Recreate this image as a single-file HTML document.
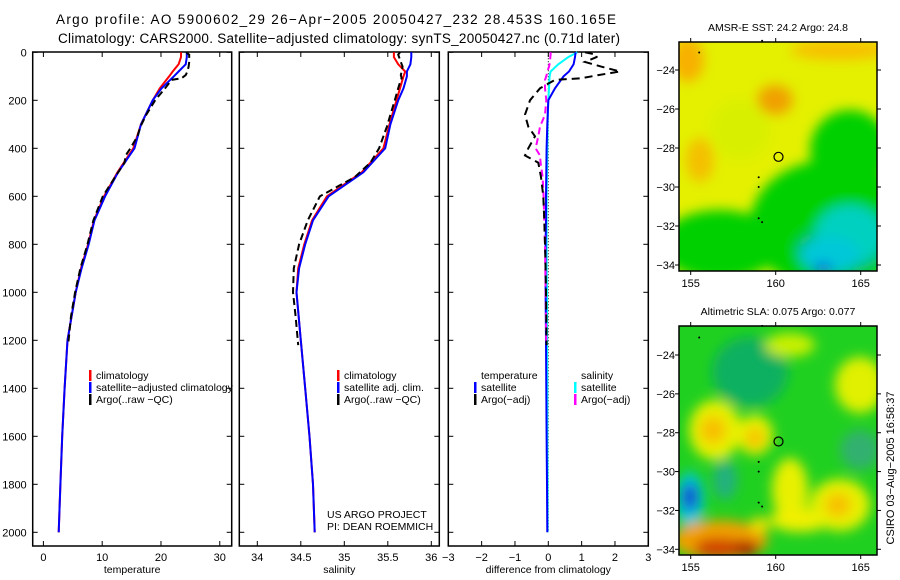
<!DOCTYPE html>
<html><head><meta charset="utf-8"><style>
html,body{margin:0;padding:0;background:#fff;}
svg{display:block;font-family:"Liberation Sans",sans-serif;}
</style></head><body>
<svg id="chart" width="900" height="580" viewBox="0 0 900 580" xmlns="http://www.w3.org/2000/svg">
<defs>
<filter id="blur1" x="-20%" y="-20%" width="140%" height="140%"><feGaussianBlur stdDeviation="6"/></filter>
<clipPath id="clipMap1"><rect x="679" y="42" width="198" height="229"/></clipPath>
<clipPath id="clipMap2"><rect x="679" y="326" width="198" height="229"/></clipPath>
</defs>
<text x="56" y="24" font-size="13.5" textLength="560">Argo profile: AO 5900602_29 26−Apr−2005 20050427_232 28.453S 160.165E</text>
<text x="58" y="43" font-size="13.5" textLength="562">Climatology: CARS2000. Satellite−adjusted climatology: synTS_20050427.nc (0.71d later)</text>
<g id="profiles"></g>
<g id="maps"></g>
<text transform="translate(894,468) rotate(-90)" text-anchor="middle" font-size="11">CSIRO 03−Aug−2005 16:58:37</text>
</svg>
<script>
const depthTicks = [0,200,400,600,800,1000,1200,1400,1600,1800,2000];
const tempTicks = [0,10,20,30];
const salTicks = [34,34.5,35,35.5,36];
const diffTicks = [-3,-2,-1,0,1,2,3];

const climDepth = [0,20,50,80,100,150,200,300,400,500,600,700,800,900,1000,1200,1400,1600,1800,2000];
const climTemp  = [23.4,23.4,23.0,22.0,21.4,19.8,18.6,16.6,15.3,12.6,10.3,8.6,7.6,6.4,5.5,4.1,3.6,3.2,2.9,2.6];
const satTemp   = [24.4,24.4,24.2,23.0,22.2,20.1,18.6,16.6,15.5,12.7,10.5,8.7,7.7,6.5,5.5,4.1,3.6,3.2,2.9,2.6];
const climSal   = [35.57,35.57,35.62,35.70,35.68,35.64,35.60,35.52,35.45,35.20,34.80,34.63,34.54,34.47,34.45,34.50,34.55,34.60,34.64,34.66];
const satSal    = [35.77,35.77,35.76,35.72,35.72,35.68,35.62,35.53,35.47,35.22,34.82,34.64,34.55,34.48,34.45,34.50,34.55,34.60,34.64,34.66];

const argoDepth = [0,10,20,40,60,80,95,108,115,150,200,260,310,350,400,430,460,520,600,700,800,900,1000,1100,1220];
const argoTemp  = [24.3,24.8,24.8,24.8,24.7,24.5,24.2,23.5,21.8,20.7,19.0,17.5,16.5,16.0,14.8,14.0,13.8,12.2,10.1,8.5,7.5,6.3,5.4,4.7,4.2];
const argoSal   = [35.64,35.62,35.63,35.65,35.67,35.66,35.65,35.66,35.65,35.62,35.58,35.53,35.49,35.45,35.40,35.35,35.30,35.12,34.72,34.58,34.48,34.42,34.41,34.44,34.47];

const diffSatT  = [0.82,0.80,0.76,0.62,0.46,0.20,0.0,-0.03,-0.05,-0.06,-0.07,-0.07,-0.08,-0.08,-0.08,-0.07,-0.06,-0.05,-0.04,-0.03];
const diffSatS  = [0.87,0.60,0.30,0.07,0.04,0.02,0.0,-0.02,-0.03,-0.04,-0.05,-0.05,-0.05,-0.05,-0.04,-0.04,-0.03,-0.03,-0.02,-0.02];
const diffArgoT = [1.1,1.45,1.45,1.1,1.6,2.15,1.5,1.0,0.2,-0.25,-0.55,-0.7,-0.6,-0.4,-0.6,-0.7,-0.3,-0.22,-0.15,-0.12,-0.1,-0.08,-0.07,-0.06,-0.05];
const diffArgoS = [0.07,0.07,0.06,0.05,0.02,-0.03,-0.05,-0.08,-0.10,-0.1,-0.06,-0.1,-0.25,-0.3,-0.38,-0.25,-0.23,-0.17,-0.14,-0.12,-0.1,-0.09,-0.08,-0.07,-0.06];

const lonTicks = [155,160,165];
const latTicks = [-24,-26,-28,-30,-32,-34];
const floatLon = 160.165, floatLat = -28.453;

const NS='http://www.w3.org/2000/svg';
function mk(tag, attrs, parent){const e=document.createElementNS(NS,tag);for(const k in attrs)e.setAttribute(k,attrs[k]);parent.appendChild(e);return e;}
const Y0=52.3, YS=0.24;
const yD = d => Y0 + d*YS;
const PT=52, PB=546;
const panels=[
 {x0:32.7,x1:231.7,vmin:-1.82,vmax:32.03,ticks:tempTicks,label:'temperature',name:'temperature-panel'},
 {x0:239.3,x1:439.3,vmin:33.793,vmax:36.092,ticks:salTicks,label:'salinity',name:'salinity-panel'},
 {x0:448.3,x1:648.3,vmin:-3,vmax:3,ticks:diffTicks,label:'difference from climatology',name:'difference-panel'}
];
const G=document.getElementById('profiles');
panels.forEach(p=>{p.sx=v=>p.x0+(v-p.vmin)/(p.vmax-p.vmin)*(p.x1-p.x0);});
function line(p,vals,depths,color,dash,name){
  let d='';vals.forEach((v,i)=>{d+=(i?'L':'M')+p.sx(v).toFixed(1)+','+yD(depths[i]).toFixed(1);});
  const el=mk('path',{d:d,fill:'none',stroke:color,'stroke-width':2,'stroke-dasharray':dash||'none'},G);
  
  
}
panels.forEach((p,pi)=>{
  const fr=mk('rect',{x:p.x0,y:PT,width:p.x1-p.x0,height:PB-PT,fill:'none',stroke:'#000','stroke-width':1.5},G);
  
  
  p.ticks.forEach(t=>{const x=p.sx(t);
    mk('line',{x1:x,x2:x,y1:PB,y2:PB-5,stroke:'#000'},G);mk('line',{x1:x,x2:x,y1:PT,y2:PT+5,stroke:'#000'},G);
    const tx=mk('text',{x:x,y:PB+15,'font-size':11,'text-anchor':'middle'},G);
    tx.textContent=(t<0?'−'+(-t):String(t));
    
    
  });
  depthTicks.forEach(d=>{const y=yD(d);
    mk('line',{x1:p.x0,x2:p.x0+5,y1:y,y2:y,stroke:'#000'},G);mk('line',{x1:p.x1,x2:p.x1-5,y1:y,y2:y,stroke:'#000'},G);
    if(pi===0){const tx=mk('text',{x:p.x0-6,y:y+4,'font-size':11,'text-anchor':'end'},G);tx.textContent=d;
      
      }
  });
  const lb=mk('text',{x:(p.x0+p.x1)/2,y:PB+27,'font-size':10.5,'text-anchor':'middle'},G);lb.textContent=p.label;
  
  
});
const [pT,pS,pD]=panels;
line(pT,climTemp,climDepth,'#f00',null,'temp-climatology-line');
line(pT,satTemp,climDepth,'#00f',null,'temp-satellite-line');
line(pT,argoTemp,argoDepth,'#000','7,4','temp-argo-line');
line(pS,climSal,climDepth,'#f00',null,'sal-climatology-line');
line(pS,satSal,climDepth,'#00f',null,'sal-satellite-line');
line(pS,argoSal,argoDepth,'#000','7,4','sal-argo-line');
{const z=mk('line',{x1:pD.sx(0),x2:pD.sx(0),y1:yD(0),y2:yD(2000),stroke:'#000','stroke-dasharray':'1,2'},G);
 
 }
line(pD,diffSatS,climDepth,'#0ff',null,'diff-sal-satellite-line');
line(pD,diffSatT,climDepth,'#00f',null,'diff-temp-satellite-line');
line(pD,diffArgoS,argoDepth,'#f0f','7,4','diff-sal-argo-line');
line(pD,diffArgoT,argoDepth,'#000','8,5','diff-temp-argo-line');

function legend(x,y,color,text,name){
  if(color){mk('rect',{x:x,y:y-9,width:2.5,height:11,fill:color},G);}
  const t=mk('text',{x:x+7,y:y,'font-size':10.5},G);t.textContent=text;
  
  
}
legend(89,379,'#f00','climatology','legend-climatology');
legend(89,391,'#00f','satellite−adjusted climatology','legend-satellite');
legend(89,403,'#000','Argo(..raw −QC)','legend-argo');
legend(337,379,'#f00','climatology','legend-climatology');
legend(337,391,'#00f','satellite adj. clim.','legend-satellite');
legend(337,403,'#000','Argo(..raw −QC)','legend-argo');
legend(474,379,null,'temperature','legend-temperature-heading');
legend(474,391,'#00f','satellite','legend-temp-satellite');
legend(474,403,'#000','Argo(−adj)','legend-temp-argo');
legend(574,379,null,'salinity','legend-salinity-heading');
legend(574,391,'#0ff','satellite','legend-sal-satellite');
legend(574,403,'#f0f','Argo(−adj)','legend-sal-argo');
{const a=mk('text',{x:327,y:518,'font-size':10.5},G);a.textContent='US ARGO PROJECT';
 
 const b=mk('text',{x:327,y:530,'font-size':10.5},G);b.textContent='PI: DEAN ROEMMICH';
 }

const M=document.getElementById('maps');
const maps=[
 {top:42,lat24:70,lat34:265,title:'AMSR-E SST: 24.2 Argo: 24.8',clip:'clipMap1',name:'sst-map',base:'#e4f000',
  blobs:[['#00d000',830,225,80,65],['#00d000',850,150,40,40],['#00d000',720,245,60,35],['#10c060',840,250,45,25],['#00d0c0',850,235,35,30],['#00c8d8',830,255,30,18],['#1060e0',823,268,10,5],
   ['#f8b000',688,60,16,22],['#f8c000',840,50,50,10],['#f0a000',775,100,18,15],['#f4c000',700,160,14,22],['#d8f000',740,130,30,30]]},
 {top:326,lat24:355,lat34:549.3,title:'Altimetric SLA: 0.075 Argo: 0.077',clip:'clipMap2',name:'sla-map',base:'#20d020',
  blobs:[['#10b060',750,372,38,35],['#e8f000',715,430,26,30],['#f8c000',713,430,13,14],['#e8f000',755,435,18,20],['#f8c000',755,438,9,10],
   ['#e8f000',790,490,18,32],['#f0f000',800,520,30,12],['#e8f000',840,505,30,26],['#f8c000',838,505,13,12],['#e0f000',860,385,25,28],['#c8f000',790,345,25,12],['#30b070',860,450,20,20],
   ['#00c8d8',690,500,14,28],['#1040d0',690,497,8,14],['#20b080',725,480,12,20],
   ['#f0a000',720,540,48,20],['#d04000',718,548,24,10],['#b01000',745,548,14,8],['#f0e000',760,525,10,8]]}
];
maps.forEach(m=>{
  const L=679,R=877,B=m.top+229;
  const sx=lon=>690.7+(lon-155)*17;
  const sy=lat=>m.lat24+(-24-lat)*(m.lat34-m.lat24)/10;
  const g=mk('g',{'clip-path':'url(#'+m.clip+')'},M);
  
  
  mk('rect',{x:L,y:m.top,width:R-L,height:229,fill:m.base},g);
  const bg=mk('g',{filter:'url(#blur1)'},g);
  m.blobs.forEach(b=>mk('ellipse',{cx:b[1],cy:b[2],rx:b[3],ry:b[4],fill:b[0]},bg));
  const fr=mk('rect',{x:L,y:m.top,width:R-L,height:229,fill:'none',stroke:'#000','stroke-width':1.5},M);
  
  
  lonTicks.forEach(lo=>{const x=sx(lo);
    mk('line',{x1:x,x2:x,y1:B,y2:B+4,stroke:'#000'},M);mk('line',{x1:x,x2:x,y1:m.top,y2:m.top-4,stroke:'#000'},M);
    const t=mk('text',{x:x,y:B+16,'font-size':11,'text-anchor':'middle'},M);t.textContent=lo;
    });
  latTicks.forEach(la=>{const y=sy(la);
    mk('line',{x1:L,x2:L-4,y1:y,y2:y,stroke:'#000'},M);mk('line',{x1:R,x2:R+4,y1:y,y2:y,stroke:'#000'},M);
    const t=mk('text',{x:L-4,y:y+4,'font-size':11,'text-anchor':'end'},M);t.textContent='−'+(-la);
    });
  const c=mk('circle',{cx:sx(floatLon),cy:sy(floatLat),r:4.5,fill:'none',stroke:'#000','stroke-width':1.2},M);
  
  [[155.5,-23.1],[159,-29.5],[159,-30],[159,-31.6],[159.2,-31.8],[159.2,-22.5]].forEach(p=>mk('circle',{cx:sx(p[0]),cy:sy(p[1]),r:1,fill:'#000'},M));
  const t=mk('text',{x:778,y:m.top-11,'font-size':10.5,'text-anchor':'middle'},M);t.textContent=m.title;
  
});
</script>
</body></html>
